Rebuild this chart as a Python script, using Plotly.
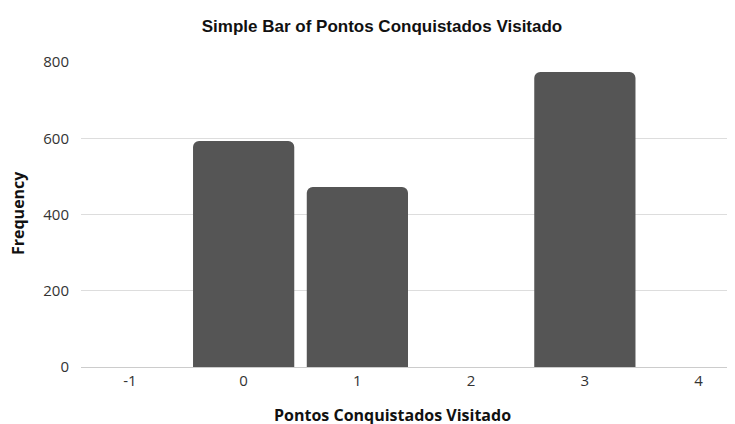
import plotly.graph_objects as go

categories = [0, 1, 3]
frequency = [593, 472, 774]
x_ticks = [-1, 0, 1, 2, 3, 4]
y_ticks = [0, 200, 400, 600, 800]

fig = go.Figure(go.Bar(
    x=categories, y=frequency, width=0.89,
    marker=dict(color="#555555", line=dict(color="#555555", width=0), cornerradius=6),
))

fig.update_layout(
    width=727, height=416,
    margin=dict(l=73, r=0, t=54, b=57),
    paper_bgcolor="white", plot_bgcolor="white",
    showlegend=False,
    title=dict(text="<b>Simple Bar of Pontos Conquistados Visitado</b>",
               x=374 / 727, xanchor="center", y=(416 - 18) / 416, yanchor="middle",
               font=dict(family="Liberation Sans, Arial", size=17, color="#111111")),
    xaxis=dict(range=[-1.43, 4.32], tickvals=x_ticks, ticktext=[str(v) for v in x_ticks],
               showgrid=False, zeroline=False, showline=True, linecolor="#cccccc",
               ticks="", tickfont=dict(family="Open Sans", size=15, color="#333333")),
    yaxis=dict(range=[0, 800], tickvals=y_ticks, showgrid=True, gridcolor="#dddddd",
               zeroline=False, ticks="", ticklabelstandoff=11,
               tickfont=dict(family="Open Sans", size=15, color="#333333")),
    bargap=0.1,
    annotations=[
        dict(text="<b>Pontos Conquistados Visitado</b>", xref="paper", yref="paper",
             x=(384 - 73) / 654, y=(359 - 407) / 305, xanchor="center", yanchor="middle",
             showarrow=False, font=dict(family="Open Sans", size=16, color="#111111")),
        dict(text="<b>Frequency</b>", xref="paper", yref="paper", textangle=-90,
             x=(10 - 73) / 654, y=(359 - 205) / 305, xanchor="center", yanchor="middle",
             showarrow=False, font=dict(family="Open Sans", size=16, color="#111111")),
    ],
)
fig.update_yaxes(showline=False)
fig.write_html("out.html")
